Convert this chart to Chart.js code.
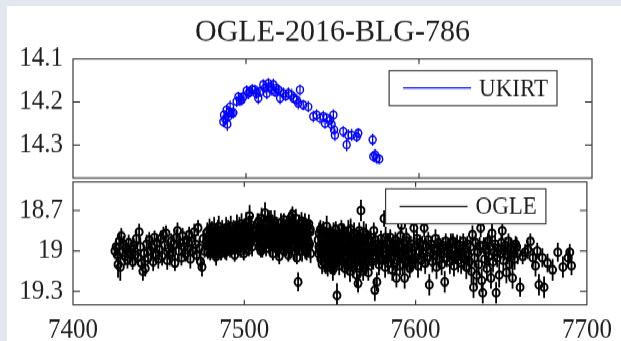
<!DOCTYPE html>
<html><head><meta charset="utf-8">
<script src="https://cdn.jsdelivr.net/npm/chart.js@4.4.0/dist/chart.umd.min.js"></script>
<style>
html,body{margin:0;padding:0;width:621px;height:341px;overflow:hidden;background:#e2e8ed;}
#paper{position:absolute;left:7px;top:6px;right:0;bottom:0;background:#fff;}
#wrap{position:absolute;left:0;top:0;width:621px;height:330px;transform-origin:0 0;transform:scaleY(1.0791);}
#wrap canvas{position:absolute;left:0;top:0;}
</style></head><body>
<div id="paper"></div>
<div id="wrap"><canvas id="c2" width="621" height="330"></canvas><canvas id="c1" width="621" height="330"></canvas></div>
<script>
const chartTitle = 'OGLE-2016-BLG-786';
const xTicks = [7400, 7500, 7600, 7700];
const xTickLabels = ['7400', '7500', '7600', '7700'];
const ukTicks = [14.1, 14.2, 14.3];
const ukTickLabels = ['14.1', '14.2', '14.3'];
const ogTicks = [18.7, 19, 19.3];
const ogTickLabels = ['18.7', '19', '19.3'];

// UKIRT (top panel)
const ukT = [7486.9,7487.3,7488.0,7488.8,7489.2,7489.8,7490.3,7490.8,7491.7,7492.7,
7494.6,7495.6,7496.5,7497.5,7498.4,7500.4,7501.3,7502.3,7503.6,7505.2,
7506.0,7507.1,7508.1,7510.0,7511.0,7512.0,7512.9,7513.9,7514.9,7515.8,
7516.8,7517.6,7518.7,7519.7,7521.6,7522.9,7524.5,7526.4,7527.4,7529.3,
7530.2,7531.2,7533.1,7536.0,7538.9,7540.8,7542.8,7544.7,7545.7,7546.6,
7548.6,7549.5,7550.5,7550.9,7551.4,7556.2,7558.2,7559.1,7561.1,7564.0,
7564.9,7573.2,7573.6,7574.6,7575.5,7577.0];
const ukMag = [14.246,14.230,14.240,14.219,14.252,14.234,14.224,14.211,14.226,14.225,
14.199,14.188,14.196,14.195,14.188,14.174,14.180,14.176,14.171,14.172,
14.180,14.191,14.176,14.160,14.168,14.180,14.157,14.164,14.172,14.160,
14.176,14.168,14.172,14.191,14.180,14.186,14.180,14.184,14.191,14.195,
14.203,14.172,14.207,14.211,14.234,14.230,14.238,14.234,14.250,14.238,
14.242,14.253,14.230,14.265,14.277,14.269,14.300,14.277,14.277,14.281,
14.273,14.288,14.327,14.323,14.331,14.333];
const ukErr = [0.013,0.012,0.014,0.013,0.015,0.012,0.013,0.014,0.012,0.013,
0.013,0.012,0.014,0.013,0.012,0.013,0.014,0.012,0.013,0.012,
0.013,0.014,0.012,0.013,0.012,0.014,0.013,0.012,0.013,0.014,
0.012,0.013,0.012,0.014,0.013,0.012,0.013,0.014,0.012,0.013,
0.014,0.013,0.012,0.013,0.014,0.013,0.012,0.014,0.013,0.012,
0.013,0.014,0.013,0.012,0.014,0.013,0.015,0.013,0.014,0.013,
0.012,0.014,0.013,0.014,0.013,0.012];

// OGLE (bottom panel)
const ogT = [
7424.5,7425.2,7425.8,7426.3,7427.0,7427.6,7428.2,7428.9,7429.5,7430.3,
7431.0,7431.8,7432.5,7433.3,7434.0,7434.8,7435.6,7436.3,7437.0,7437.8,
7438.6,7439.3,7440.0,7440.8,7441.5,7442.2,7443.0,7443.8,7444.5,7445.3,
7446.0,7446.8,7447.6,7448.3,7449.0,7449.8,7450.5,7451.3,7452.0,7452.8,
7453.5,7454.3,7455.0,7455.8,7456.5,7457.3,7458.0,7458.8,7459.5,7460.3,
7461.0,7461.8,7462.5,7463.3,7464.0,7464.8,7465.5,7466.3,7467.0,7467.8,
7468.5,7469.3,7470.0,7470.8,7471.5,7472.3,7473.0,7473.8,7474.5,7475.3,
7476.0,7476.8,
7478.1,7478.4,7478.7,7479.1,7479.4,7479.7,7480.1,7480.4,7480.7,
7481.1,7481.4,7481.7,7482.1,7482.4,7482.7,7483.1,7483.4,7483.7,
7484.1,7484.4,7484.7,7485.1,7485.4,7485.7,7486.1,7486.4,7486.7,
7487.1,7487.4,7487.7,7488.1,7488.4,7488.7,7489.1,7489.4,7489.7,
7490.1,7490.4,7490.7,7491.1,7491.4,7491.7,7492.1,7492.4,7492.7,
7493.1,7493.4,7493.7,7494.1,7494.4,7494.7,7495.1,7495.4,7495.7,
7496.1,7496.4,7496.7,7497.1,7497.4,7497.7,7498.1,7498.4,7498.7,
7499.1,7499.4,7499.7,7500.1,7500.4,7500.7,7501.1,7501.4,7501.7,
7502.1,7502.4,7502.7,7503.1,7503.4,7503.7,7504.1,7504.4,7504.7,
7507.1,7507.4,7507.7,7508.1,7508.4,7508.7,7509.1,7509.4,7509.7,
7510.1,7510.4,7510.7,7511.1,7511.4,7511.7,7512.1,7512.4,7512.7,
7513.1,7513.4,7513.7,7514.1,7514.4,7514.7,7515.1,7515.4,7515.7,
7516.1,7516.4,7516.7,7517.1,7517.4,7517.7,7518.1,7518.4,7518.7,
7519.1,7519.4,7519.7,7520.1,7520.4,7520.7,7521.1,7521.4,7521.7,
7522.1,7522.4,7522.7,7523.1,7523.4,7523.7,7524.1,7524.4,7524.7,
7525.1,7525.4,7525.7,7526.1,7526.4,7526.7,7527.1,7527.4,7527.7,
7528.1,7528.4,7528.7,7529.1,7529.4,7529.7,7530.1,7530.4,7530.7,
7531.1,7531.4,7531.7,7532.1,7532.4,7532.7,7533.1,7533.4,7533.7,
7534.1,7534.4,7534.7,7535.1,7535.4,7535.7,7536.1,7536.4,7536.7,
7537.1,7537.4,7537.7,7538.1,7538.4,7538.7,
7543.1,7543.4,7543.7,7544.1,7544.4,7544.7,7545.1,7545.4,7545.7,
7546.1,7546.4,7546.7,7547.1,7547.4,7547.7,7548.1,7548.4,7548.7,
7549.1,7549.4,7549.7,7550.1,7550.4,7550.7,7551.1,7551.4,7551.7,
7552.1,7552.4,7552.7,7553.1,7553.4,7553.7,7554.1,7554.4,7554.7,
7555.1,7555.4,7555.7,7556.1,7556.4,7556.7,7557.1,7557.4,7557.7,
7558.1,7558.4,7558.7,7559.1,7559.4,7559.7,7560.1,7560.4,7560.7,
7561.1,7561.4,7561.7,7562.1,7562.4,7562.7,7563.1,7563.4,7563.7,
7564.1,7564.4,7564.7,7565.1,7565.4,7565.7,7566.1,7566.4,7566.7,
7567.1,7567.4,7567.7,7568.1,7568.4,7568.7,7569.1,7569.4,7569.7,
7570.1,7570.4,7570.7,7571.1,7571.4,7571.7,7572.1,7572.4,7572.7,
7573.2,7573.8,7574.4,7575.0,7575.6,7576.2,7576.8,7577.4,7578.0,7578.6,
7579.2,7579.8,7580.4,7581.0,7581.6,7582.2,7582.8,7583.4,7584.0,7584.6,
7585.2,7585.8,7586.4,7587.0,7587.6,7588.2,7588.8,7589.4,7590.0,7590.6,
7591.2,7591.8,7592.4,7593.0,7593.6,7594.2,7594.8,7595.4,7596.0,7596.6,
7597.2,7597.8,7598.4,7599.0,7599.6,7600.2,7600.8,7601.4,7602.0,7602.6,
7603.2,7603.8,7604.4,7605.0,7605.6,7606.2,7606.8,7607.4,7608.0,7608.6,
7609.2,7609.8,7610.4,7611.0,7611.6,7612.2,7612.8,7613.4,7614.0,7614.6,
7615.2,7615.8,7616.4,7617.0,7617.6,7618.2,7618.8,7619.4,7620.0,7620.6,
7621.2,7621.8,7622.4,7623.0,7623.6,7624.2,7624.8,7625.4,7626.0,7626.6,
7627.2,7627.8,7628.4,7629.0,7629.6,7630.2,7630.8,7631.4,7632.0,7632.6,
7633.2,7633.8,7634.4,7635.0,7635.6,7636.2,7636.8,7637.4,7638.0,7638.6,
7639.2,7639.8,7640.4,7641.0,7641.6,7642.2,7642.8,7643.4,7644.0,7644.6,
7645.2,7645.8,7646.4,7647.0,7647.6,7648.2,7648.8,7649.4,7650.0,7650.6,
7651.2,7651.8,7652.4,7653.0,7653.6,7654.2,7654.8,7655.4,7656.0,7656.6,
7657.2,7657.8,7658.4,7659.0,7659.6,
7661.0,7662.5,7664.0,7665.5,7667.0,7668.5,7670.0,7671.0,7672.0,7674.0,
7675.0,7677.0,7680.0,7683.0,7686.0,7689.0,7690.0,7691.0,
7478.55,7479.55,7480.55,7481.55,7482.55,7483.55,7484.55,7485.55,7486.55,
7487.55,7488.55,7489.55,7490.55,7491.55,7492.55,7493.55,7494.55,7495.55,
7496.55,7497.55,7498.55,7499.55,7500.55,7501.55,7502.55,7503.55,7504.55,
7507.55,7508.55,7509.55,7510.55,7511.55,7512.55,7513.55,7514.55,
7515.55,7516.55,7517.55,7518.55,7519.55,7520.55,7521.55,7522.55,
7523.55,7524.55,7525.55,7526.55,7527.55,7528.55,7529.55,7530.55,
7531.55,7532.55,7533.55,7534.55,7535.55,7536.55,7537.55,7538.55,
7543.55,7544.55,7545.55,7546.55,7547.55,7548.55,7549.55,7550.55,7551.55,7552.55,
7553.55,7554.55,7555.55,7556.55,7557.55,7558.55,7559.55,7560.55,7561.55,7562.55,
7563.55,7564.55,7565.55,7566.55,7567.55,7568.55,7569.55,7570.55,7571.55,7572.55,
7574.1,7575.3,7576.5,7577.7,7578.9,7580.1,7581.3,7582.5,7583.7,7584.9,
7586.1,7587.3,7588.5,7589.7,7590.9,7592.1,7593.3,7594.5,7595.7,7597.5];
const ogMag = [
19.00,18.97,19.03,19.10,18.93,19.12,18.89,19.01,18.95,19.04,
18.98,19.07,18.94,19.02,18.99,19.08,18.96,19.03,18.91,19.05,
18.86,18.97,19.09,19.15,19.02,19.13,18.95,19.05,18.92,19.00,
18.97,19.08,18.90,19.03,18.94,19.06,18.99,18.91,19.04,18.88,
18.96,18.87,19.07,18.98,19.03,18.93,19.01,18.95,19.09,18.90,
18.85,19.00,18.94,19.05,18.89,18.97,19.02,18.92,18.99,18.88,
19.06,18.93,19.00,18.86,18.95,19.03,18.83,18.98,19.08,19.12,
18.91,19.00,
18.93,18.86,19.01,18.89,18.97,18.84,19.02,18.91,18.95,
18.85,18.99,18.92,18.94,18.83,19.03,18.88,18.96,18.90,
19.00,18.86,18.93,18.82,18.95,18.98,18.91,19.02,18.87,
18.84,18.93,18.97,18.96,18.88,19.01,18.90,18.83,18.94,
18.87,18.99,18.92,18.95,18.85,19.00,18.82,18.91,18.96,
18.89,18.97,18.84,18.93,19.03,18.88,18.86,18.94,18.81,
18.98,18.90,18.85,18.83,18.92,19.00,18.88,18.80,18.95,
18.91,18.86,19.02,18.84,18.97,18.89,18.79,18.93,18.87,
18.90,18.82,18.99,18.74,18.86,18.94,18.81,18.92,18.88,
18.85,18.93,18.80,18.90,18.78,18.97,18.83,18.88,19.00,
18.76,18.92,18.86,18.89,18.81,18.95,18.72,18.87,18.98,
18.84,18.93,18.79,18.91,18.77,18.86,18.82,18.96,18.89,
18.87,18.80,19.02,18.93,18.85,18.78,18.81,18.90,18.97,
18.88,18.95,18.83,18.97,19.04,18.90,18.86,18.79,18.94,
18.90,18.83,18.99,18.77,18.88,18.92,18.84,18.96,18.80,
18.91,18.85,19.03,18.79,18.89,18.94,18.86,18.75,18.97,
18.73,18.90,18.83,18.88,18.95,18.81,18.76,18.93,19.05,
18.84,19.23,18.90,18.80,18.97,18.87,18.92,18.78,19.00,
18.85,18.95,18.82,18.89,18.79,18.96,18.83,19.01,18.91,
18.87,18.93,18.80,18.95,18.86,19.02,
18.92,19.02,18.87,18.98,18.84,19.06,18.90,19.10,18.95,
18.85,19.00,19.08,18.96,18.89,19.04,18.82,18.99,19.12,
18.93,19.05,18.88,19.01,18.86,19.09,18.91,18.97,19.14,
18.87,19.03,18.94,18.99,18.84,19.07,19.33,18.92,19.02,
18.88,19.11,18.96,19.04,18.90,18.83,18.95,19.08,18.99,
18.86,19.01,19.13,18.93,18.97,19.06,18.89,19.10,18.85,
19.00,18.92,19.15,18.84,18.96,19.04,18.98,19.12,18.90,
18.87,19.02,18.95,19.07,18.93,19.18,18.91,19.24,18.99,
18.85,19.05,19.13,18.70,18.96,19.08,18.90,19.15,18.86,
19.01,18.94,19.10,18.88,19.06,18.97,18.93,19.16,19.03,
19.02,18.93,19.08,18.97,18.85,19.29,19.04,19.23,18.95,19.10,
19.00,18.91,19.06,18.98,18.76,19.12,19.03,18.94,19.09,18.99,
18.90,19.05,19.14,18.96,19.01,18.92,19.20,19.07,18.97,19.03,
18.89,18.81,19.10,18.99,19.20,19.04,18.93,19.08,18.98,19.13,
18.95,19.02,19.06,18.83,18.97,19.05,18.91,19.11,19.00,18.94,
19.07,18.96,19.02,18.83,19.09,18.97,19.04,18.92,19.25,19.01,
18.95,19.08,19.03,18.98,18.91,19.12,19.00,18.94,19.06,18.99,
19.10,18.96,19.02,19.23,18.93,19.05,19.00,18.97,19.08,18.94,
19.03,18.93,19.11,18.98,19.04,18.95,19.07,19.00,18.96,19.09,
19.02,18.93,19.06,18.99,19.12,18.95,19.03,19.08,18.97,19.15,
18.88,19.27,19.05,18.94,19.18,19.01,19.10,18.96,18.83,19.22,
19.31,18.96,19.06,18.99,19.13,18.93,19.04,18.97,19.20,18.87,
19.08,19.01,18.95,19.31,19.05,18.98,19.18,19.02,18.94,18.85,
19.07,19.00,18.96,19.16,19.03,18.93,19.10,18.98,19.04,19.20,
18.99,19.06,18.95,18.97,19.02,
19.27,19.04,19.01,18.99,18.93,19.05,19.11,19.00,19.25,19.05,
19.27,19.09,19.14,19.01,19.12,19.05,19.01,19.11,
18.90,18.95,18.87,18.97,18.89,19.04,18.85,18.91,18.99,
18.88,18.92,19.00,18.84,18.96,18.89,18.93,18.99,18.90,
18.87,18.95,18.84,18.97,18.92,18.86,18.95,18.83,18.97,
18.89,18.84,18.93,18.98,18.85,18.91,18.88,18.95,
18.78,18.92,18.89,18.84,18.99,18.94,18.83,18.87,
18.95,18.90,18.82,18.99,18.92,18.86,19.00,18.83,
18.96,18.88,18.84,18.91,18.99,18.86,18.97,18.84,
18.97,19.01,18.86,18.93,19.10,18.90,19.00,18.95,19.04,19.10,
18.93,19.06,19.02,18.97,18.88,19.05,18.91,19.01,18.98,19.09,
18.94,19.06,19.02,18.97,19.11,18.93,19.03,18.98,19.08,18.91,
18.99,19.06,18.92,19.00,19.07,18.96,19.03,18.90,19.05,18.94,
19.00,19.09,18.95,19.01,19.11,18.97,19.04,18.90,19.02,19.07];
const ogErr = [
.05,.06,.05,.10,.07,.10,.06,.05,.06,.07,
.05,.06,.06,.05,.07,.06,.05,.08,.06,.06,
.06,.07,.06,.07,.06,.06,.07,.05,.06,.08,
.06,.07,.05,.06,.06,.07,.05,.06,.07,.06,
.05,.06,.07,.06,.08,.06,.05,.07,.06,.06,
.06,.07,.05,.06,.06,.07,.06,.05,.08,.06,
.07,.06,.05,.06,.07,.06,.06,.07,.06,.07,
.06,.05,
.06,.07,.05,.07,.06,.08,.05,.06,.07,
.07,.05,.06,.06,.08,.05,.06,.07,.06,
.05,.07,.06,.08,.06,.05,.06,.05,.07,
.07,.06,.05,.06,.07,.05,.06,.08,.06,
.07,.05,.06,.06,.07,.05,.08,.06,.06,
.06,.05,.07,.06,.05,.07,.07,.06,.08,
.05,.06,.07,.08,.06,.05,.07,.08,.06,
.06,.07,.05,.07,.06,.06,.08,.06,.07,
.06,.08,.05,.08,.07,.06,.07,.06,.07,
.06,.07,.08,.07,.06,.05,.07,.06,.05,
.08,.06,.07,.06,.07,.05,.08,.06,.06,
.07,.05,.08,.06,.07,.06,.05,.08,.07,
.06,.07,.05,.07,.06,.08,.05,.07,.06,
.06,.05,.07,.07,.06,.05,.08,.07,.06,
.06,.07,.05,.05,.06,.07,.07,.08,.06,
.06,.07,.05,.07,.06,.08,.08,.06,.07,
.06,.05,.07,.08,.06,.06,.07,.08,.05,
.06,.07,.06,.07,.06,.05,.06,.07,.08,
.07,.05,.06,.06,.07,.06,.07,.06,.05,
.07,.06,.07,.06,.05,.07,
.07,.06,.08,.06,.07,.05,.08,.07,.06,
.07,.06,.08,.05,.07,.06,.08,.06,.07,
.06,.08,.07,.07,.05,.08,.06,.07,.08,
.08,.06,.07,.07,.06,.08,.09,.07,.06,
.06,.07,.08,.07,.05,.06,.08,.07,.06,
.06,.08,.07,.07,.06,.08,.06,.07,.08,
.07,.06,.08,.08,.07,.06,.06,.08,.07,
.08,.07,.06,.07,.06,.08,.07,.07,.06,
.06,.08,.07,.08,.06,.07,.06,.07,.08,
.07,.06,.07,.08,.07,.06,.07,.06,.08,
.06,.07,.06,.07,.06,.08,.07,.07,.06,.08,
.07,.06,.07,.06,.06,.08,.07,.06,.08,.07,
.06,.07,.08,.06,.07,.06,.07,.08,.07,.06,
.07,.06,.08,.07,.08,.06,.07,.08,.06,.07,
.06,.07,.08,.06,.07,.08,.06,.09,.07,.06,
.08,.07,.06,.07,.08,.06,.07,.06,.08,.07,
.06,.08,.07,.06,.07,.09,.07,.06,.08,.07,
.08,.06,.07,.08,.06,.07,.08,.06,.09,.07,
.07,.06,.08,.07,.06,.07,.09,.06,.07,.08,
.07,.06,.08,.07,.09,.06,.07,.08,.06,.09,
.07,.08,.07,.06,.09,.07,.08,.06,.07,.09,
.08,.06,.07,.08,.09,.06,.07,.06,.08,.07,
.08,.07,.06,.08,.07,.06,.09,.07,.06,.07,
.08,.07,.06,.08,.07,.06,.09,.07,.08,.08,
.07,.08,.06,.07,.08,
.07,.06,.06,.07,.06,.07,.08,.06,.08,.07,
.08,.07,.08,.07,.08,.07,.06,.07,
.07,.06,.08,.07,.06,.07,.08,.06,.07,
.08,.06,.07,.07,.06,.08,.07,.06,.07,
.08,.06,.07,.06,.08,.07,.06,.08,.07,
.07,.08,.06,.07,.08,.06,.07,.07,
.08,.06,.07,.08,.06,.07,.07,.08,
.06,.07,.08,.07,.06,.07,.08,.06,
.07,.07,.08,.06,.07,.08,.06,.07,
.08,.07,.06,.08,.07,.07,.08,.06,.07,.08,
.07,.06,.08,.07,.07,.08,.06,.07,.08,.07,
.06,.08,.07,.07,.08,.06,.07,.08,.07,.06,
.07,.08,.06,.07,.08,.07,.06,.08,.07,.07,
.08,.06,.07,.08,.07,.06,.08,.07,.07,.08];

const SERIF = "'Liberation Serif', 'DejaVu Serif', serif";
const INK = '#1e1e1e';
const FRAME = '#3a3a3a';

function errorBars(t, m, e) {
  const out = [];
  t.forEach((x, i) => { out.push({x: x, y: m[i] - e[i]}, {x: x, y: m[i] + e[i]}, {x: x, y: null}); });
  return out;
}
function points(t, m) { return t.map((x, i) => ({x: x, y: m[i]})); }

const framePlugin = {
  id: 'frame',
  afterDatasetsDraw(chart, args, o) {
    const {ctx, chartArea: a, scales} = chart;
    ctx.save();
    ctx.strokeStyle = FRAME; ctx.lineWidth = 1.2;
    ctx.beginPath();
    o.xTicks.forEach(v => {
      const p = scales.x.getPixelForValue(v);
      if (p > a.left + 1 && p < a.right - 1) {
        ctx.moveTo(p, a.bottom); ctx.lineTo(p, a.bottom - 4.6);
        ctx.moveTo(p, a.top); ctx.lineTo(p, a.top + 4.6);
      }
    });
    o.yTicks.forEach(v => {
      const p = scales.y.getPixelForValue(v);
      if (p > a.top + 1 && p < a.bottom - 1) {
        ctx.moveTo(a.left, p); ctx.lineTo(a.left + 7, p);
        ctx.moveTo(a.right, p); ctx.lineTo(a.right - 7, p);
      }
    });
    ctx.stroke();
    ctx.strokeRect(a.left, a.top, a.right - a.left, a.bottom - a.top);
    ctx.restore();
  }
};

const boxLegend = {
  id: 'boxLegend',
  afterDraw(chart, args, o) {
    const {ctx, chartArea: a} = chart;
    const ds = chart.data.datasets[o.dataset];
    ctx.save();
    ctx.font = o.size + 'px ' + SERIF;
    const tw = ctx.measureText(ds.label).width;
    const w = o.padL + o.line + o.gap + tw + o.padR;
    const x0 = a.right - o.right - w, y0 = a.top + o.top;
    ctx.fillStyle = '#fff'; ctx.fillRect(x0, y0, w, o.height);
    ctx.strokeStyle = FRAME; ctx.lineWidth = 1.2; ctx.strokeRect(x0, y0, w, o.height);
    const cy = y0 + o.height / 2;
    ctx.strokeStyle = ds.borderColor; ctx.lineWidth = 1.3;
    ctx.beginPath(); ctx.moveTo(x0 + o.padL, cy); ctx.lineTo(x0 + o.padL + o.line, cy); ctx.stroke();
    ctx.fillStyle = INK; ctx.textBaseline = 'middle'; ctx.textAlign = 'left';
    ctx.fillText(ds.label, x0 + o.padL + o.line + o.gap, cy + 1);
    ctx.restore();
  }
};

function yScale(min, max, ticks, labels) {
  return {
    type: 'linear', reverse: true, min: min, max: max,
    grid: {display: false, drawTicks: false}, border: {display: false},
    ticks: {color: INK, font: {family: SERIF, size: 25}, padding: 10, callback: (v, i) => labels[i]},
    afterBuildTicks: s => { s.ticks = ticks.map(v => ({value: v})); },
    afterFit: s => { s.width = 73; }
  };
}

function panel(id, label, color, t, m, e, lw, opts) {
  return new Chart(document.getElementById(id), {
    type: 'scatter',
    data: {datasets: [
      {label: label, data: points(t, m), pointStyle: 'circle', pointRadius: 3.5,
       borderColor: color, backgroundColor: 'rgba(0,0,0,0)', pointBorderWidth: lw, borderWidth: lw},
      {label: label + ' error', data: errorBars(t, m, e), showLine: true, spanGaps: false,
       pointRadius: 0, borderColor: color, borderWidth: lw - 0.2}
    ]},
    options: Object.assign({responsive: false, animation: false, events: []}, opts),
    plugins: [framePlugin, boxLegend]
  });
}

panel('c1', 'UKIRT', '#0000ff', ukT, ukMag, ukErr, 1.45, {
  layout: {padding: {left: 0, right: 29, top: 0, bottom: 165.05}},
  plugins: {
    legend: {display: false}, tooltip: {enabled: false},
    title: {display: true, fullSize: false, text: chartTitle, color: INK,
            font: {family: SERIF, size: 30, weight: 'normal'}, padding: {top: 12.6, bottom: 6.1}},
    frame: {xTicks: xTicks, yTicks: ukTicks},
    boxLegend: {dataset: 0, size: 23, padL: 14, line: 68, gap: 8, padR: 9, right: 35, top: 10.8, height: 32.4}
  },
  scales: {
    x: {type: 'linear', display: false, min: 7400, max: 7700},
    y: yScale(14.1, 14.377, ukTicks, ukTickLabels)
  }
});

panel('c2', 'OGLE', '#000000', ogT, ogMag, ogErr, 2.0, {
  layout: {padding: {left: 0, right: 29, top: 168.7, bottom: 7.4}},
  plugins: {
    legend: {display: false}, tooltip: {enabled: false},
    frame: {xTicks: xTicks, yTicks: ogTicks},
    boxLegend: {dataset: 0, size: 23, padL: 14, line: 68, gap: 8, padR: 9, right: 41, top: 6.4, height: 32.4}
  },
  scales: {
    x: {type: 'linear', min: 7400, max: 7700,
        grid: {display: false, drawTicks: false}, border: {display: false},
        ticks: {color: INK, font: {family: SERIF, size: 25}, padding: 9.1, maxRotation: 0, callback: (v, i) => xTickLabels[i]},
        afterBuildTicks: s => { s.ticks = xTicks.map(v => ({value: v})); },
        afterFit: s => { s.height = 40; }},
    y: yScale(18.49, 19.40, ogTicks, ogTickLabels)
  }
});
</script>
</body></html>
